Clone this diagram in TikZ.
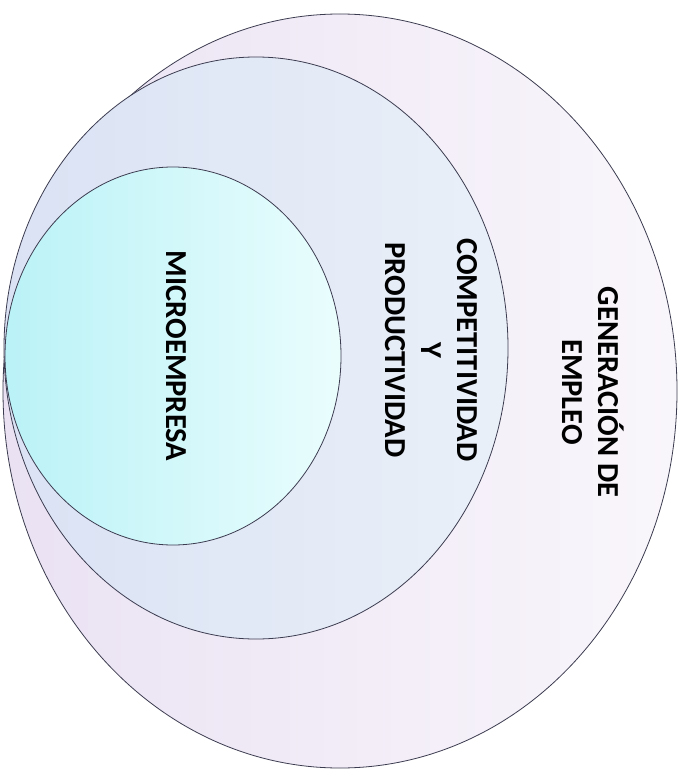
\documentclass[tikz,border=0pt]{standalone}
\usepackage{fontspec}
\setmainfont{Carlito}
\definecolor{outerL}{RGB}{234,226,243}
\definecolor{outerR}{RGB}{249,246,251}
\definecolor{midL}{RGB}{218,226,244}
\definecolor{midR}{RGB}{234,240,248}
\definecolor{inL}{RGB}{186,242,247}
\definecolor{inR}{RGB}{234,253,253}
\definecolor{edge}{RGB}{60,60,80}
\begin{document}
\begin{tikzpicture}[x=1pt,y=-1pt,
  ring/.style={draw=edge, line width=0.8pt},
  lbl/.style={rotate=-90, align=center, text=black, inner sep=0pt,
    font=\bfseries\fontsize{30.5}{36}\selectfont}]
\useasboundingbox (0,0) rectangle (683,783);
\fill[white] (0,0) rectangle (683,783);
% outer ellipse
\shade[ring, left color=outerL, right color=outerR]
  (340,391) ellipse [x radius=337pt, y radius=377pt];
% middle ellipse
\shade[ring, left color=midL, right color=midR]
  (256,348) ellipse [x radius=252pt, y radius=291pt];
% inner ellipse
\shade[ring, left color=inL, right color=inR]
  (173,356) ellipse [x radius=168pt, y radius=189pt];
% texts
\node[lbl] (empleo) at (593,392) {GENERACIÓN DE\\EMPLEO};
\node[lbl] (compet) at (431,350) {COMPETITIVIDAD\\Y\\PRODUCTIVIDAD};
\node[lbl] (micro) at (176,356) {MICROEMPRESA};
\end{tikzpicture}
\end{document}
